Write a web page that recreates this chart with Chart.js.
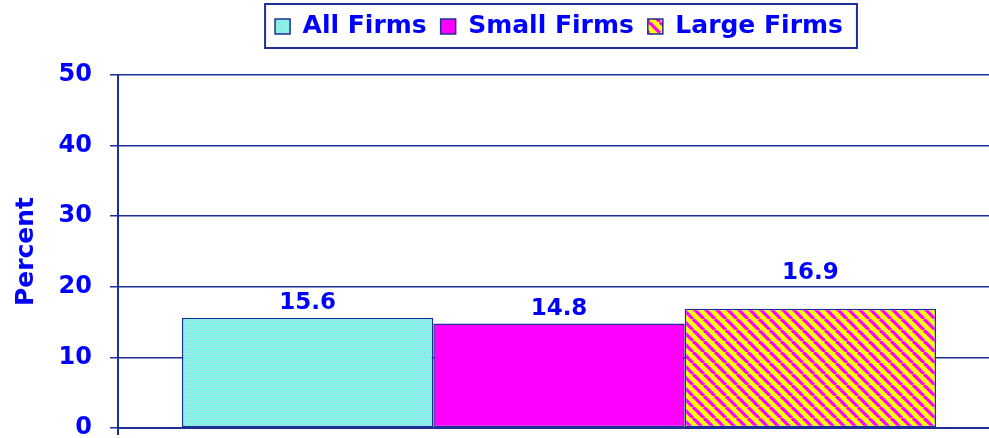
<!DOCTYPE html>
<html>
<head>
<meta charset="utf-8">
<script src="https://cdn.jsdelivr.net/npm/chart.js@4.4.1/dist/chart.umd.min.js"></script>
<style>
  html, body { margin: 0; padding: 0; background: #fff; overflow: hidden; }
  #wrap { position: absolute; left: 0; top: 0; width: 1000px; height: 438px; }
</style>
</head>
<body>
<div id="wrap"><canvas id="myChart"></canvas></div>
<script>
const grafico = document.querySelector("#myChart")

// dados
const categorias = [""]
const series = ["All Firms", "Small Firms", "Large Firms"]
const valores = [15.6, 14.8, 16.9]
const eixoY = { min: 0, max: 50, passo: 10 }

const azul = "#0000ff"
const marinho = "#1c2f96"
const fonte = "'DejaVu Sans', sans-serif"

// textura pontilhada do primeiro grupo
const pontilhado = function () {
    const c = document.createElement("canvas")
    c.width = 4; c.height = 4
    const g = c.getContext("2d")
    g.fillStyle = "#78f8dc"
    g.fillRect(0, 0, 4, 4)
    g.fillStyle = "#b0c8f6"
    g.fillRect(0, 0, 1, 1)
    g.fillRect(2, 2, 1, 1)
    g.fillStyle = "#88ffff"
    g.fillRect(3, 1, 1, 1)
    g.fillRect(1, 3, 1, 1)
    return g.createPattern(c, "repeat")
}

// listras diagonais amarelo / magenta
const listrado = function () {
    const n = 11
    const c = document.createElement("canvas")
    c.width = n; c.height = n
    const g = c.getContext("2d")
    g.fillStyle = "#ffff00"
    g.fillRect(0, 0, n, n)
    g.strokeStyle = "#ff00ff"
    g.lineWidth = 3.3
    for (const k of [-n, 0, n]) {
        g.beginPath()
        g.moveTo(k, 0)
        g.lineTo(k + n, n)
        g.stroke()
    }
    return g.createPattern(c, "repeat")
}

const preenchimentos = [pontilhado(), "#ff00ff", listrado()]

// rotulos de valor acima das barras (sobem acima da grade quando cruzam)
const rotulos = {
    id: "rotulos",
    afterDatasetsDraw(chart) {
        const ctx = chart.ctx
        const y = chart.scales.y
        ctx.save()
        ctx.font = "bold 23px " + fonte
        ctx.fillStyle = azul
        ctx.textAlign = "center"
        ctx.textBaseline = "alphabetic"
        chart.data.datasets.forEach((ds, i) => {
            chart.getDatasetMeta(i).data.forEach((bar, j) => {
                let base = bar.y - 9
                const topo = base - 19
                y.ticks.forEach(t => {
                    const gy = y.getPixelForValue(t.value)
                    if (gy > topo - 2 && gy < base + 2) base = gy - 8
                })
                ctx.fillText(ds.data[j].toFixed(1), bar.x, base)
            })
        })
        ctx.restore()
    }
}

// espaco livre entre a legenda e a area do grafico
const espacoLegenda = {
    id: "espacoLegenda",
    beforeLayout(chart) {
        const lg = chart.legend
        if (lg && !lg._espaco) {
            lg._espaco = true
            const fitOriginal = lg.fit
            lg.fit = function () {
                fitOriginal.call(this)
                this.height += 26
            }
        }
    }
}

// moldura da legenda + eixo que desce abaixo do zero
const moldura = {
    id: "moldura",
    afterDraw(chart) {
        const ctx = chart.ctx
        const a = chart.chartArea
        ctx.save()
        ctx.strokeStyle = marinho
        ctx.lineWidth = 2
        ctx.beginPath()
        ctx.moveTo(a.left, a.bottom)
        ctx.lineTo(a.left, a.bottom + 7)
        ctx.stroke()
        const caixas = chart.legend.legendHitBoxes
        if (caixas && caixas.length) {
            const ult = caixas[caixas.length - 1]
            const x0 = caixas[0].left - 10
            const x1 = ult.left + ult.width + 14
            const y0 = caixas[0].top - 10
            const y1 = caixas[0].top + caixas[0].height + 9
            ctx.strokeRect(x0, y0, x1 - x0, y1 - y0)
        }
        ctx.restore()
    }
}

new Chart(grafico, {
    type: "bar",
    data: {
        labels: categorias,
        datasets: series.map((nome, i) => ({
            label: nome,
            data: [valores[i]],
            backgroundColor: preenchimentos[i],
            borderColor: marinho,
            borderWidth: 1.5,
            borderSkipped: false,
            barPercentage: 1,
            categoryPercentage: 0.855
        }))
    },
    options: {
        responsive: true,
        maintainAspectRatio: false,
        animation: false,
        layout: { padding: { top: 0, right: 0, bottom: 0, left: 0 } },
        plugins: {
            tooltip: { enabled: false },
            legend: {
                position: "top",
                fullSize: false,
                labels: {
                    color: azul,
                    font: { family: fonte, size: 25, weight: "bold" },
                    boxWidth: 15,
                    boxHeight: 15,
                    padding: 14
                }
            }
        },
        scales: {
            x: {
                ticks: { display: false },
                grid: { display: false },
                border: { display: true, color: marinho, width: 2 },
                afterFit: s => { s.height = 10; s.paddingTop = 0; s.paddingBottom = 0 }
            },
            y: {
                min: eixoY.min,
                max: eixoY.max,
                ticks: {
                    stepSize: eixoY.passo,
                    color: azul,
                    padding: 18,
                    font: { family: fonte, size: 24, weight: "bold" }
                },
                grid: { color: marinho, lineWidth: 1.5, tickLength: 8 },
                border: { display: true, color: marinho, width: 2 },
                title: {
                    display: true,
                    text: "Percent",
                    color: azul,
                    padding: { top: 11, bottom: 0 },
                    font: { family: fonte, size: 25, weight: "bold" }
                },
                afterFit: s => { s.width = 118; s.paddingTop = 0; s.paddingBottom = 0 }
            }
        }
    },
    plugins: [espacoLegenda, rotulos, moldura]
})
</script>
</body>
</html>
